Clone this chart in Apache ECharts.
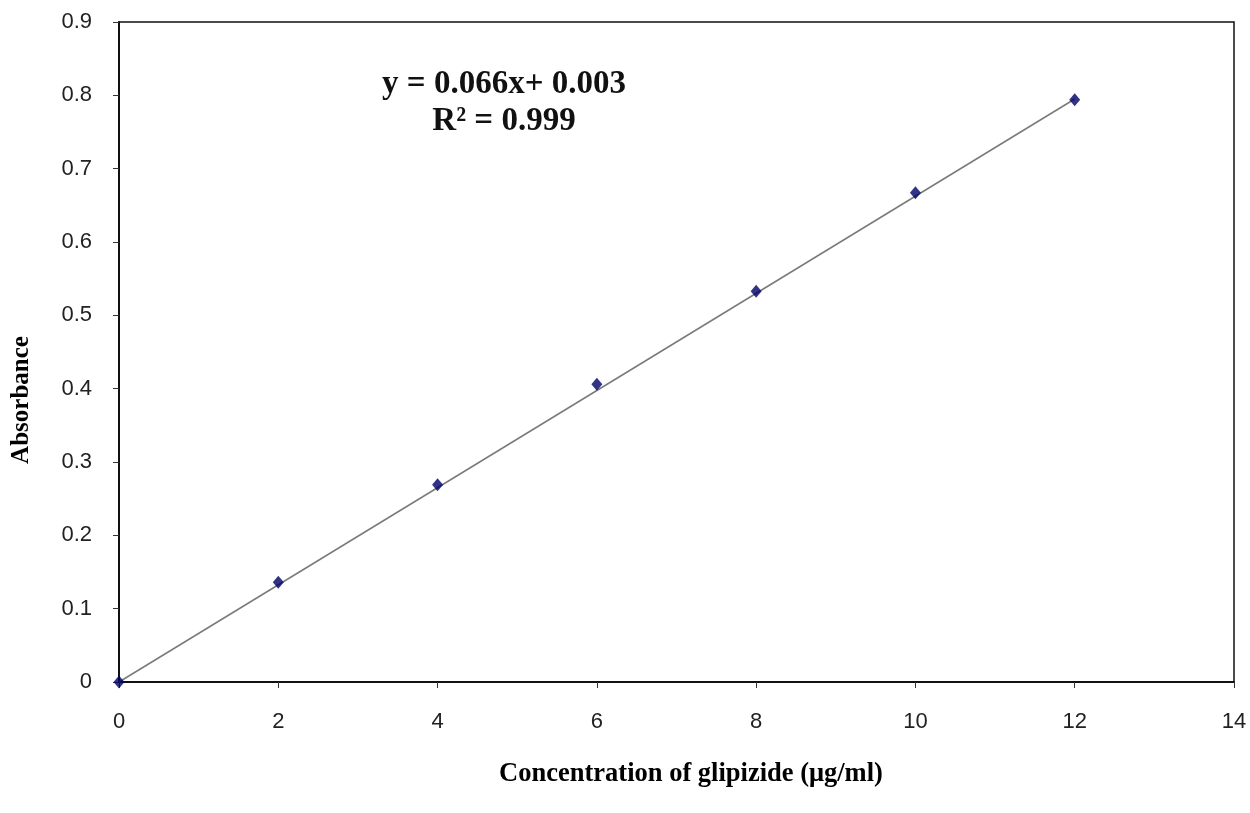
<!DOCTYPE html>
<html>
<head>
<meta charset="utf-8">
<script src="https://cdn.jsdelivr.net/npm/echarts@6/dist/echarts.min.js"></script>
<style>
  html, body { margin: 0; padding: 0; background: #fff; }
  #chart { width: 1250px; height: 813px; }
</style>
</head>
<body>
<div id="chart"></div>
<script>
// calibration data: concentration (ug/ml) vs absorbance
const concentration = [0, 2, 4, 6, 8, 10, 12]
const absorbance = [0, 0.136, 0.269, 0.406, 0.533, 0.667, 0.794]
// linear trend line end points (y = 0.066x + 0.003)
const trendX = [0, 12]
const trendY = [0.0, 0.795]
const equationText = 'y = 0.066x+ 0.003'
const r2Text = 'R² = 0.999'
const xTitle = 'Concentration of glipizide (μg/ml)'
const yTitle = 'Absorbance'

const chart = echarts.init(document.getElementById('chart'))

const titleFont = {
  fontFamily: 'Liberation Serif',
  fontWeight: 'bold',
  fill: '#000'
}

const options = {
  animation: false,
  grid: {
    left: 119,
    right: 16,
    top: 22,
    bottom: 131,
    outerBoundsMode: 'none',
    containLabel: false,
    show: true,
    borderColor: '#111',
    borderWidth: 1.5
  },
  xAxis: {
    type: 'value',
    min: 0,
    max: 14,
    interval: 2,
    axisLine: { lineStyle: { color: '#111', width: 2 } },
    axisTick: { show: true, length: 6, lineStyle: { color: '#333' } },
    axisLabel: {
      margin: 29,
      fontFamily: 'Liberation Sans',
      fontSize: 22,
      color: '#222'
    },
    splitLine: { show: false }
  },
  yAxis: {
    type: 'value',
    min: 0,
    max: 0.9,
    interval: 0.1,
    axisLine: { show: true, lineStyle: { color: '#111', width: 2 } },
    axisTick: { show: true, length: 6, lineStyle: { color: '#333' } },
    axisLabel: {
      margin: 27,
      fontFamily: 'Liberation Sans',
      fontSize: 22,
      color: '#222',
      formatter: (v) => (v === 0 ? '0' : v.toFixed(1))
    },
    splitLine: { show: false }
  },
  graphic: [
    {
      type: 'text',
      x: 504,
      y: 66,
      style: {
        text: equationText + '\n' + r2Text,
        fontFamily: 'Liberation Serif',
        fontWeight: 'bold',
        fontSize: 33,
        lineHeight: 37,
        align: 'center',
        fill: '#111'
      }
    },
    {
      type: 'text',
      x: 691,
      y: 774,
      style: Object.assign({ text: xTitle, fontSize: 26.5, align: 'center', verticalAlign: 'middle' }, titleFont)
    },
    {
      type: 'text',
      x: 22,
      y: 400,
      rotation: Math.PI / 2,
      style: Object.assign({ text: yTitle, fontSize: 25, align: 'center', verticalAlign: 'middle' }, titleFont)
    }
  ],
  series: [
    {
      type: 'line',
      data: trendX.map((x, i) => [x, trendY[i]]),
      showSymbol: false,
      lineStyle: { color: '#7a7a7a', width: 1.5 },
      z: 1
    },
    {
      type: 'scatter',
      data: concentration.map((x, i) => [x, absorbance[i]]),
      symbol: 'diamond',
      symbolSize: [11, 13],
      itemStyle: { color: '#000066' },
      z: 2
    }
  ]
}

chart.setOption(options)
</script>
</body>
</html>
